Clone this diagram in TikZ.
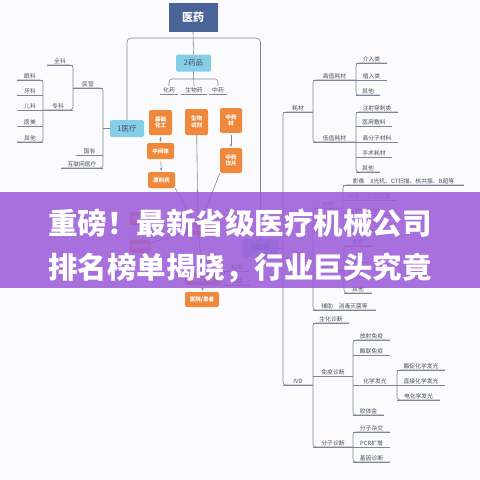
\documentclass[tikz,border=0pt]{standalone}
\usepackage{fontspec}
\setmainfont{Noto Sans CJK SC}
\newfontfamily\bannerfont{Noto Sans CJK SC}
\usetikzlibrary{arrows.meta,positioning,calc}
\definecolor{pagebg}{HTML}{FBFBFD}
\definecolor{lngray}{HTML}{7E8594}
\definecolor{txtgray}{HTML}{4A505C}
\definecolor{topblue}{HTML}{4A6497}
\definecolor{skyblue}{HTML}{86CDE8}
\definecolor{flow}{HTML}{F0883C}
\definecolor{bandpurple}{HTML}{9C5DD9}

% leaf on an underline: name, left x, right x, line y, text
\newcommand{\leaf}[5]{%
  \coordinate (#1-l) at (#2,#4);
  \coordinate (#1-r) at (#3,#4);
  \node[lbl] (#1) at ({(#2+#3)/2},#4) {#5};
  \draw[ln] (#1-l) -- (#1-r);}

\begin{document}
\begin{tikzpicture}[
  x=1pt, y=-1pt, >=Stealth,
  ln/.style={draw=lngray, line width=0.6pt},
  bracket/.style={ln, rounded corners=3pt},
  arr/.style={->, lngray, line width=0.5pt, shorten <=1.5pt, shorten >=1pt,
              >={Stealth[length=2.8pt, width=2.4pt]}},
  lbl/.style={anchor=south, inner sep=1.2pt, text=txtgray,
              font=\fontsize{5.8}{7}\selectfont},
  topbox/.style={fill=topblue, text=white, minimum width=49pt,
                 minimum height=29pt, inner sep=0pt,
                 font=\fontsize{11}{12}\selectfont\bfseries},
  bluebox/.style={fill=skyblue, text=txtgray, rounded corners=1.5pt,
                  minimum width=35pt, minimum height=17pt, inner sep=0pt,
                  font=\fontsize{7.5}{8}\selectfont},
  flowbox/.style={fill=flow, text=white, rounded corners=2pt, inner sep=0pt,
                  align=center, minimum width=23pt, minimum height=16pt,
                  font=\fontsize{5.5}{6.8}\selectfont\bfseries},
  bandtxt/.style={text=white, inner sep=0pt,
                  font=\bannerfont\bfseries\fontsize{29.5}{30}\selectfont},
]
\fill[pagebg] (0,0) rectangle (480,480);
\useasboundingbox (0,0) rectangle (480,480);

% main boxes
\node[topbox] (yy) at (193,17.5) {医药};
\node[bluebox] (yp) at (193.5,63) {2药品};
\node[bluebox, minimum width=34pt] (yl) at (127,128.5) {1医疗};
\node[bluebox, minimum height=18pt] (qx) at (260.5,248) {3器械};

\coordinate (tj) at (193,38);
\draw[ln, rounded corners=4pt] (yl.north) |- (tj) -| (qx.north);
\draw[ln] (yy.south) -- (yp.north);

% 1 left tree
\leaf{my}{73}{103}{88}{民营}
\leaf{gy}{76}{103}{155}{国有}
\leaf{hl}{61}{103}{168}{互联网医疗}
\leaf{qk}{47}{73}{65}{全科}
\leaf{zk}{43}{73}{110}{专科}
\leaf{yk}{17}{43}{80}{眼科}
\leaf{yak}{17}{43}{95}{牙科}
\leaf{ek}{17}{43}{110}{儿科}
\leaf{ym}{17}{43}{126}{医美}
\leaf{qta}{17}{43}{142}{其他}
\draw[bracket] (my-l) -- (my-r) -- (hl-r) -- (hl-l);
\draw[bracket] (qk-l) -- (qk-r) -- (zk-r) -- (zk-l);
\draw[bracket] (yk-l) -- (yk-r) -- (qta-r) -- (qta-l);
\draw[ln] (yl.west) -- (yl.west -| my-r);

% 2 drug chain
\leaf{hy}{160}{178}{94}{化药}
\leaf{sw}{181}{207}{94}{生物药}
\leaf{zy}{209}{227}{94}{中药}
\coordinate (ypj) at (193,79);
\draw[ln, rounded corners=3pt] (hy.north) |- (ypj) -| (zy.north);
\draw[ln] (yp.south) -- (sw.north);

\node[flowbox, minimum height=25pt] (jc) at (160.5,122.5) {基础\\化工};
\node[flowbox, minimum width=27pt] (zj) at (160.5,151) {中间体};
\node[flowbox, minimum width=27pt] (yly) at (161.5,180) {原料药};
\node[flowbox, minimum height=26pt] (swsj) at (196.5,122) {生物\\试剂};
\node[flowbox, minimum width=22pt, minimum height=25pt] (zyc) at (231,120.5) {中药\\材};
\node[flowbox, minimum width=22pt, minimum height=25pt] (zyyp) at (231,160.5) {中药\\饮片};
\node[flowbox, minimum width=23pt, minimum height=13pt] (fzy) at (141,218.5) {仿制药};
\node[flowbox, minimum width=21pt, minimum height=13pt] (cxy) at (140,246) {创新药};
\node[flowbox, minimum width=30pt, minimum height=12pt] (zjq) at (198,229) {制药企业};
\node[flowbox, minimum width=36pt, minimum height=12pt] (lt) at (203,279) {医药流通};
\node[flowbox, minimum width=34pt, minimum height=15pt] (hz) at (202,299.5) {医院/患者};

\draw[arr] (jc) -- (zj);
\draw[arr] (zj) -- (yly);
\draw[arr] (zyc) -- (zyyp);
\draw[ln] (yly.south east) -- (zjq);
\draw[ln] (swsj) -- (zjq);
\draw[ln] (zyyp.south west) -- (zjq);
\draw[ln] (zjq) -- (fzy);
\draw[ln] (zjq) -- (cxy);
\draw[ln] (zjq) -- (lt);
\draw[arr] (lt) -- (hz);
\leaf{pf}{224}{250}{271}{批发}
\leaf{ls}{224}{250}{285}{零售}
\draw[bracket] (pf-r) -- (pf-l) -- (ls-l) -- (ls-r);
\draw[ln] (lt.east) -- (lt.east -| pf-l);

% 3 right tree
\leaf{hc}{283}{313}{112}{耗材}
\leaf{sb}{283}{313}{258}{设备}
\leaf{ivd}{283}{313}{385}{IVD}
\draw[bracket] (hc-r) -- (hc-l) -- (ivd-l) -- (ivd-r);
\draw[ln] (qx.east) -- (qx.east -| hc-l);

\leaf{gz}{313}{356}{80}{高值耗材}
\leaf{dz}{313}{356}{142}{低值耗材}
\draw[bracket] (gz-r) -- (gz-l) -- (dz-l) -- (dz-r);
\leaf{jr}{356}{387}{63}{介入类}
\leaf{zr}{356}{387}{80}{植入类}
\leaf{qtb}{356}{380}{95}{其他}
\draw[bracket] (jr-r) -- (jr-l) -- (qtb-l) -- (qtb-r);
\leaf{zs}{356}{398}{112}{注射穿刺类}
\leaf{fl}{356}{392}{126}{医用敷料}
\leaf{gf}{356}{398}{142}{高分子材料}
\leaf{ss}{356}{392}{157}{手术耗材}
\leaf{qtc}{356}{380}{172}{其他}
\draw[bracket] (zs-r) -- (zs-l) -- (qtc-l) -- (qtc-r);

\leaf{zd}{313}{343}{208}{诊断}
\leaf{zl}{313}{344}{270}{治疗}
\leaf{fz}{313}{376}{310}{辅助\quad 消毒灭菌等}
\draw[bracket] (zd-r) -- (zd-l) -- (fz-l) -- (fz-r);
\leaf{yx}{343}{464}{185}{影像\quad X光机、CT扫描、核共振、B超等}
\leaf{fx}{343}{396}{200}{分析 ：化验仪器}
\leaf{jh}{343}{392}{215}{监护 ：监护仪}
\leaf{jy1}{343}{380}{230}{检验}
\draw[bracket] (yx-r) -- (yx-l) -- (jy1-l) -- (jy1-r);
\leaf{fs1}{344}{372}{246}{放射}
\leaf{ssa}{344}{372}{262}{手术}
\leaf{lla}{344}{372}{277}{理疗}
\leaf{qtd}{344}{372}{293}{其他}
\draw[bracket] (fs1-r) -- (fs1-l) -- (qtd-l) -- (qtd-r);

\leaf{sh}{313}{349}{323}{生化诊断}
\leaf{mz}{313}{353}{376}{免疫诊断}
\leaf{fzd}{313}{353}{447}{分子诊断}
\draw[bracket] (sh-r) -- (sh-l) -- (fzd-l) -- (fzd-r);
\leaf{fsm}{353}{390}{340}{放射免疫}
\leaf{ml}{353}{390}{355}{酶联免疫}
\leaf{hx}{353}{397}{385}{化学发光}
\leaf{jtj}{353}{384}{415}{胶体金}
\draw[bracket] (fsm-r) -- (fsm-l) -- (jtj-l) -- (jtj-r);
\leaf{mc}{397}{445}{370}{酶促化学发光}
\leaf{zjf}{397}{445}{385}{直接化学发光}
\leaf{dh}{397}{440}{400}{电化学发光}
\draw[bracket] (mc-r) -- (mc-l) -- (dh-l) -- (dh-r);
\leaf{fzz}{353}{390}{432}{分子杂交}
\leaf{pcr}{353}{390}{447}{PCR扩增}
\leaf{jyz}{353}{390}{462}{基因诊断}
\draw[bracket] (fzz-r) -- (fzz-l) -- (jyz-l) -- (jyz-r);

% title band over the map
\node[fill=bandpurple, fill opacity=0.88, minimum width=480pt,
      minimum height=96pt, inner sep=0pt] (band) at (240,240) {};
\node[bandtxt] (t1) at (240,223) {重磅！最新省级医疗机械公司};
\node[bandtxt] (t2) at (240,268) {排名榜单揭晓，行业巨头究竟};
\end{tikzpicture}
\end{document}
